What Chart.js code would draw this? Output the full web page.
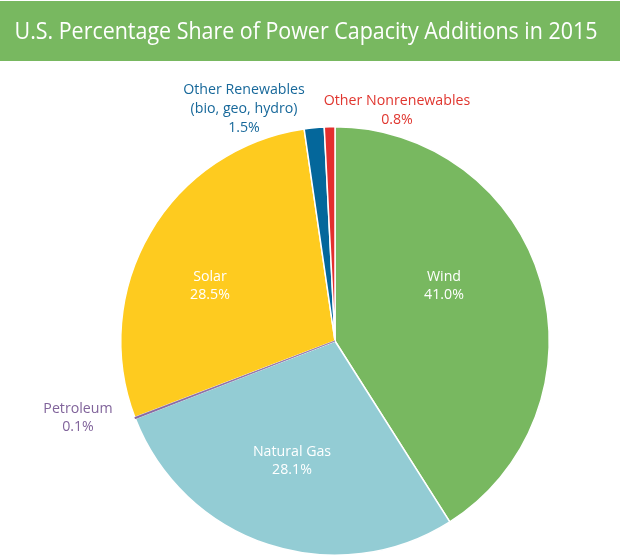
<!DOCTYPE html>
<html>
<head>
<meta charset="utf-8">
<style>
  html, body { margin: 0; padding: 0; background: #fff; }
  canvas { display: block; }
</style>
<script src="https://cdn.jsdelivr.net/npm/chart.js@4"></script>
</head>
<body>
<canvas id="shareChart" width="620" height="556"></canvas>
<script>
const chartTitle = "U.S. Percentage Share of Power Capacity Additions in 2015";
const categories = ["Wind", "Natural Gas", "Petroleum", "Solar", "Other Renewables", "Other Nonrenewables"];
const shares = [41.0, 28.1, 0.1, 28.5, 1.5, 0.8];
const sliceColors = ["#78b860", "#93ccd4", "#8567a0", "#fecb1f", "#04679b", "#e32f2e"];

// label lines and where they sit on the page
const labelLines = [
    ["Wind", "41.0%"],
    ["Natural Gas", "28.1%"],
    ["Petroleum", "0.1%"],
    ["Solar", "28.5%"],
    ["Other Renewables", "(bio, geo, hydro)", "1.5%"],
    ["Other Nonrenewables", "0.8%"]
];
const labelColors = ["#fff", "#fff", "#81649b", "#fff", "#17689a", "#e0362f"];
const labelX = [444, 292, 78, 210, 244, 397];
const labelY = [276.5, 451.5, 408.5, 276.5, 90, 101];
const lineGap = 18.8;

const petroleumIndex = categories.indexOf("Petroleum");

const pageText = {
    id: "pageText",
    beforeDraw(chart) {
        const c = chart.ctx;
        c.save();
        c.fillStyle = "#78b860";
        c.fillRect(0, 1, 620, 60);
        c.restore();
    },
    afterDatasetsDraw(chart) {
        // the sliver gets covered by its neighbours' borders, so paint it again on top
        chart.getDatasetMeta(0).data[petroleumIndex].draw(chart.ctx);
    },
    afterDraw(chart) {
        const c = chart.ctx;
        c.save();
        c.textAlign = "center";
        c.textBaseline = "middle";
        c.fillStyle = "#fff";
        c.font = "24px 'Open Sans'";
        c.fillText(chartTitle, 306, 32, 583);
        c.font = "14.2px 'Open Sans'";
        labelLines.forEach(function (lines, i) {
            c.fillStyle = labelColors[i];
            lines.forEach(function (line, j) {
                c.fillText(line, labelX[i], labelY[i] + j * lineGap);
            });
        });
        c.restore();
    }
};

new Chart(document.getElementById("shareChart").getContext("2d"), {
    type: "pie",
    data: {
        labels: categories,
        datasets: [{
            data: shares,
            backgroundColor: sliceColors,
            borderColor: ["#fff", "#fff", "#8567a0", "#fff", "#fff", "#fff"],
            borderWidth: [1.5, 1.5, 0.6, 1.5, 1.5, 1.5]
        }]
    },
    options: {
        responsive: false,
        animation: false,
        layout: { padding: { top: 126, bottom: 0, left: 120, right: 70 } },
        plugins: {
            legend: { display: false },
            tooltip: { enabled: false }
        }
    },
    plugins: [pageText]
});
</script>
</body>
</html>
